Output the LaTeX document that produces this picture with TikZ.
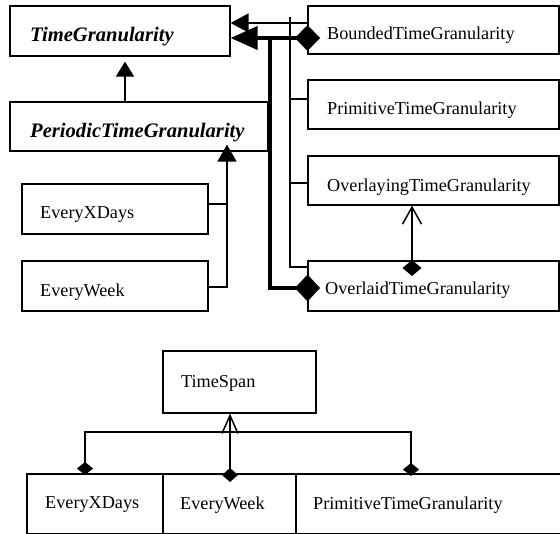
\documentclass[tikz,border=0pt]{standalone}
\usepackage{fontspec}
\setmainfont{Liberation Serif}
\usetikzlibrary{arrows.meta,calc}
\begin{document}
\begin{tikzpicture}[x=1pt,y=-1pt,
  box/.style={draw, line width=1.6pt, inner sep=0pt, anchor=north west},
  lbl/.style={anchor=west, inner sep=0pt, font=\fontsize{18.2}{21}\selectfont},
  ilbl/.style={anchor=west, inner sep=0pt, font=\fontsize{20.6}{23}\selectfont\bfseries\itshape},
  conn/.style={line width=1.5pt},
  heavy/.style={line width=4pt, line join=miter},
]
\useasboundingbox (0,0) rectangle (560,534);
% top boxes
\node[box, minimum width=220pt, minimum height=50pt] (tg) at (9,5) {};
\node[box, minimum width=258pt, minimum height=49pt] (pt) at (9,101) {};
\node[box, minimum width=186pt, minimum height=50pt] (exd) at (21,183) {};
\node[box, minimum width=186pt, minimum height=50pt] (ew) at (21,260) {};
\node[box, minimum width=251pt, minimum height=48pt] (bg) at (307,5) {};
\node[box, minimum width=251pt, minimum height=49pt] (pg) at (307,79) {};
\node[box, minimum width=251pt, minimum height=49pt] (oyg) at (307,155) {};
\node[box, minimum width=251pt, minimum height=50pt] (og) at (307,260) {};
% bottom boxes
\node[box, minimum width=153pt, minimum height=62pt] (ts) at (162,350) {};
\node[box, minimum width=136pt, minimum height=60pt] (bx1) at (26,473) {};
\node[box, minimum width=133pt, minimum height=60pt] (bx2) at (162,473) {};
\node[box, minimum width=270pt, minimum height=60pt] (bx3) at (295,473) {};
% labels
\node[ilbl] (tgt) at (30,37) {TimeGranularity};
\node[ilbl] (ptt) at (30,133) {PeriodicTimeGranularity};
\node[lbl] (exdt) at (40,215) {EveryXDays};
\node[lbl] (ewt) at (40,292) {EveryWeek};
\node[lbl] (bgt) at (327,35) {BoundedTimeGranularity};
\node[lbl] (pgt) at (327,110) {PrimitiveTimeGranularity};
\node[lbl] (oygt) at (327,187) {OverlayingTimeGranularity};
\node[lbl] (ogt) at (325,290) {OverlaidTimeGranularity};
\node[lbl] (tst) at (181,383) {TimeSpan};
\node[lbl] (bx1t) at (45,505) {EveryXDays};
\node[lbl] (bx2t) at (180,505) {EveryWeek};
\node[lbl] (bx3t) at (313,505) {PrimitiveTimeGranularity};
% coordinates
\coordinate (jA) at (227,204);
\coordinate (jB) at (227,287);
\coordinate (vt) at (290,17);
\coordinate (vb) at (290,267);
\coordinate (hk) at (270,38);
\coordinate (hb) at (270,288);
\coordinate (bgd) at (320,38);
\coordinate (ogd) at (320,288);
\coordinate (ovd) at (412,276);
\coordinate (l1) at (85,432);
\coordinate (r1) at (411,432);
\coordinate (d1) at (85,475);
\coordinate (d2) at (230,482);
\coordinate (d3) at (411,476);
% top connectors
\draw[conn, -{Triangle[length=15pt,width=18pt]}, shorten >=5pt] (pt.north -| 125,0) -- (tg.south -| 125,0);
\draw[conn] (exd.east |- jA) -- (jA);
\draw[conn, -{Triangle[length=17pt,width=19pt]}, shorten >=-7pt] (ew.east |- jB) -- (jB) -- (pt.south -| jB);
\draw[conn, -{Triangle[length=18pt,width=19pt]}] (bg.west |- 0,23) -- (tg.east |- 0,23);
\draw[conn] (vt) -- (vb) -- (og.west |- vb);
\draw[conn] (vt |- 0,99) -- (pg.west |- 0,99);
\draw[conn] (vt |- 0,183) -- (oyg.west |- 0,183);
\draw[heavy, {Diamond[length=25pt,width=26pt]}-{Triangle[length=27pt,width=23pt]}] (bgd) -- (tg.east |- bgd);
\draw[heavy, {Diamond[length=25pt,width=27pt]}-] (ogd) -- (hb) -- (hk);
\draw[conn, {Diamond[length=16pt,width=19pt]}-{Straight Barb[length=17pt,width=19pt]}] (ovd) -- (oyg.south -| ovd);
% bottom connectors
\draw[conn, {Diamond[length=13pt,width=16pt]}-{Diamond[length=13pt,width=16pt]}] (d1) -- (l1) -- (r1) -- (d3);
\draw[conn, {Diamond[length=14pt,width=16pt]}-{Straight Barb[length=18pt,width=16pt]}] (d2) -- (ts.south -| d2);
\end{tikzpicture}
\end{document}
